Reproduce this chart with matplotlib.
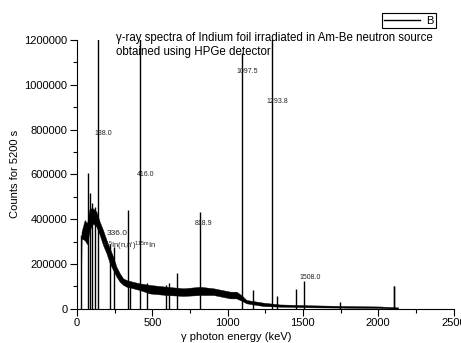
import numpy as np
import matplotlib
matplotlib.use('Agg')
import matplotlib.pyplot as plt
from matplotlib.ticker import FormatStrFormatter

plt.rcParams['font.family'] = ['Liberation Sans', 'DejaVu Sans']
plt.rcParams['mathtext.fontset'] = 'custom'
plt.rcParams['mathtext.rm'] = 'Liberation Sans'
plt.rcParams['mathtext.it'] = 'Liberation Sans:italic'

# background band of the spectrum
energy = [26, 30, 51, 67, 84, 107, 129, 151, 173, 196, 218, 240, 262, 284, 307, 329,
          373, 418, 484, 596, 707, 818, 907, 1018, 1058, 1091, 1125, 1236, 1346,
          1568, 1789, 2010, 2132]
upper = [10000, 343000, 396000, 381000, 448000, 448000, 433000, 388000, 351000, 306000,
         269000, 232000, 187000, 158000, 135000, 128000, 120000, 113000, 106000, 98000,
         91000, 98000, 91000, 76000, 76000, 61000, 39000, 27000, 19000, 15000, 12000,
         10000, 6000]
lower = [0, 314000, 306000, 288000, 351000, 381000, 366000, 329000, 284000, 247000,
         202000, 172000, 143000, 120000, 106000, 98000, 91000, 83000, 68000, 61000,
         57000, 61000, 61000, 46000, 46000, 36000, 24000, 12000, 9000, 6000, 4500,
         3000, 0]

# peaks and bigger noise spikes
peak_e = [26, 76, 84, 100, 118, 138.0, 218, 247, 338, 352, 416.0, 462, 590, 610, 666,
          818.9, 1097.5, 1169, 1293.8, 1331, 1457, 1508.0, 1745, 2102, 2106]
peak_c = [330000, 608000, 517000, 470000, 455000, 1500000, 291000, 276000, 443000,
          120000, 1500000, 113000, 105000, 113000, 160000, 433000, 1141000, 83000,
          1500000, 58000, 88000, 123000, 28000, 101000, 101000]

# peak labels
lab_text = ['138.0', '416.0', '818.9', '1097.5', '1293.8', '1508.0']
lab_x = [176, 454, 842, 1127, 1327, 1549]
lab_y = [781000, 598000, 381000, 1058000, 924000, 140000]

fig = plt.figure(figsize=(4.61, 3.43), dpi=100)
ax = fig.add_axes([77 / 461, 1 - 308.7 / 343, 376.5 / 461, 268.7 / 343])

ax.fill_between(energy, lower, upper, color='k', lw=0.3)
ax.vlines(peak_e, 0, peak_c, color='k', lw=1.0)
ax.plot([], [], color='k', lw=1, label='B')

for t, x, y in zip(lab_text, lab_x, lab_y):
    ax.text(x, y, t, fontsize=5, ha='center', va='center', color='#222222')
ax.text(270, 335000, '336.0', fontsize=6, ha='center', va='center', color='#222222')
ax.text(164, 280000, r"$^{115}$In(n,n')$^{115\mathrm{m}}$In", fontsize=5.5,
        ha='left', va='center', color='#222222')

ax.text(258, 1207000, u'\u03b3-ray spectra of Indium foil irradiated in Am-Be neutron source',
        fontsize=8.3, ha='left', va='center', clip_on=False)
ax.text(258, 1146000, 'obtained using HPGe detector', fontsize=8.3, ha='left', va='center')

ax.set_xlim(0, 2500)
ax.set_ylim(0, 1200000)
ax.set_xticks(np.arange(0, 2501, 500))
ax.set_xticks(np.arange(250, 2500, 500), minor=True)
ax.set_yticks(np.arange(0, 1200001, 200000))
ax.set_yticks(np.arange(100000, 1200000, 200000), minor=True)
ax.yaxis.set_major_formatter(FormatStrFormatter('%d'))
ax.tick_params(direction='out', labelsize=8, length=5, width=0.8, pad=2)
ax.tick_params(which='minor', direction='out', length=3, width=0.8)

for s in ['top', 'right']:
    ax.spines[s].set_visible(False)
for s in ['left', 'bottom']:
    ax.spines[s].set_linewidth(0.8)

ax.set_ylabel('Counts for 5200 s', fontsize=8, labelpad=3)
ax.set_xlabel(u'\u03b3 photon energy (keV)', fontsize=8)
ax.xaxis.set_label_coords((236 - 77) / 376.5, -0.085)

leg = ax.legend(loc='upper right', bbox_to_anchor=(436 / 461, 1 - 13.3 / 343),
                bbox_transform=fig.transFigure, fontsize=8, fancybox=False,
                edgecolor='k', framealpha=1, handlelength=3.2, borderpad=0.2,
                handletextpad=0.6, borderaxespad=0)
leg.get_frame().set_linewidth(0.8)

fig.savefig('out.png', dpi=100)
